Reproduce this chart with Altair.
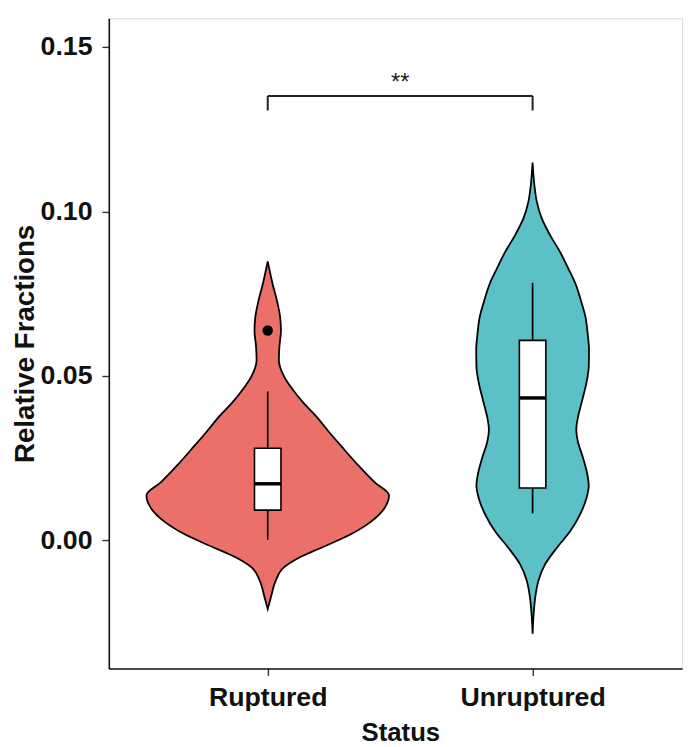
import altair as alt
import pandas as pd

# ---- data ----
statuses = ["Ruptured", "Unruptured"]
centers = [1, 2]
fill_colors = ["#EC706A", "#5BC1C6"]

# violin outline: value (y) and half-width (x units)
rupt_v = [0.0848, 0.0778, 0.0728, 0.0678, 0.0638, 0.0588, 0.0548, 0.0498, 0.0458,
          0.0418, 0.0377, 0.0328, 0.0277, 0.0227, 0.0177, 0.0137, 0.0097, 0.0057,
          0.0017, -0.0023, -0.0053, -0.0083, -0.0123, -0.0173, -0.0209]
rupt_hw = [0.0, 0.019, 0.035, 0.047, 0.050, 0.044, 0.042, 0.062, 0.095,
           0.135, 0.183, 0.233, 0.288, 0.343, 0.403, 0.458, 0.440, 0.390,
           0.310, 0.200, 0.118, 0.060, 0.030, 0.012, 0.0]

unrupt_v = [0.1149, 0.1079, 0.1029, 0.0978, 0.0928, 0.0878, 0.0828, 0.0778, 0.0728,
            0.0678, 0.0628, 0.0578, 0.0528, 0.0478, 0.0428, 0.0377, 0.0337, 0.0297,
            0.0257, 0.0207, 0.0167, 0.0127, 0.0077, 0.0027, -0.0023, -0.0073,
            -0.0123, -0.0173, -0.0224, -0.0284]
unrupt_hw = [0.0, 0.007, 0.016, 0.035, 0.066, 0.103, 0.134, 0.163, 0.183,
             0.200, 0.208, 0.213, 0.212, 0.203, 0.188, 0.172, 0.165, 0.172,
             0.188, 0.205, 0.212, 0.203, 0.178, 0.141, 0.091, 0.047,
             0.022, 0.010, 0.004, 0.0]

# boxplot statistics
box_q1 = [0.0092, 0.0159]
box_med = [0.0172, 0.0433]
box_q3 = [0.0280, 0.0608]
whisk_lo = [0.0002, 0.0082]
whisk_hi = [0.0453, 0.0783]
box_half = 0.05

outlier_status = ["Ruptured"]
outlier_v = [0.0638]

# significance bracket
bracket_from = 1
bracket_to = 2
bracket_y = 0.1351
bracket_tick_y = 0.1307
sig_label = "**"
sig_y = 0.1368

# ---- tables ----
rows = []
for st, c, vs, hws in [(statuses[0], centers[0], rupt_v, rupt_hw),
                       (statuses[1], centers[1], unrupt_v, unrupt_hw)]:
    for v, hw in zip(vs, hws):
        rows.append({"status": st, "v": v, "lo": c - hw, "hi": c + hw})
violin_df = pd.DataFrame(rows).sort_values(["status", "v"]).reset_index(drop=True)

box_df = pd.DataFrame({
    "status": statuses, "c": centers,
    "lo": [c - box_half for c in centers], "hi": [c + box_half for c in centers],
    "q1": box_q1, "med": box_med, "q3": box_q3, "wl": whisk_lo, "wh": whisk_hi,
})
out_df = pd.DataFrame({"status": outlier_status,
                       "c": [centers[statuses.index(s)] for s in outlier_status],
                       "v": outlier_v})
br_df = pd.DataFrame({
    "x": [bracket_from, bracket_from, bracket_to],
    "x2": [bracket_to, bracket_from, bracket_to],
    "y": [bracket_y, bracket_tick_y, bracket_tick_y],
    "y2": [bracket_y, bracket_y, bracket_y],
})
txt_df = pd.DataFrame({"x": [(bracket_from + bracket_to) / 2], "y": [sig_y], "t": [sig_label]})

# ---- scales / axes ----
FONT = "Liberation Sans"
xscale = alt.Scale(domain=[0.4, 2.5642], nice=False, zero=False)
yscale = alt.Scale(domain=[-0.03897, 0.15875], nice=False, zero=False)

xaxis = alt.Axis(values=[1, 2], labelExpr="datum.value < 1.5 ? 'Ruptured' : 'Unruptured'",
                 grid=False, tickSize=7, labelPadding=9, labelFontSize=27,
                 labelFont=FONT, labelFontWeight="bold", labelColor="#111111",
                 labelFlush=False, labelOverlap=False,
                 domainColor="#111111", domainWidth=1.6, tickColor="#333333", tickWidth=1.4,
                 titleFont=FONT, titleFontSize=26, titleFontWeight="bold", titleColor="#111111",
                 titleBaseline="alphabetic", titleX=295, titleY=73, titleAlign="center")
yaxis = alt.Axis(values=[0, 0.05, 0.10, 0.15], format=".2f", grid=False, tickSize=7,
                 labelPadding=10, labelFontSize=27, labelFont=FONT, labelFontWeight="bold",
                 labelColor="#111111", labelFlush=False, labelOverlap=False,
                 domainColor="#111111", domainWidth=1.6, tickColor="#333333", tickWidth=1.4,
                 titleFont=FONT, titleFontSize=28, titleFontWeight="bold", titleColor="#111111",
                 titleBaseline="alphabetic", titleX=-76, titleAngle=270, titleAlign="center")


def X(field):
    return alt.X(field, type="quantitative", scale=xscale, axis=xaxis, title="Status")


def Y(field):
    return alt.Y(field, type="quantitative", scale=yscale, axis=yaxis, title="Relative Fractions")


color = alt.Color("status:N", scale=alt.Scale(domain=statuses, range=fill_colors), legend=None)

violins = alt.Chart(violin_df).mark_area(
    orient="horizontal", interpolate="monotone", stroke="black", strokeWidth=1.8,
    fillOpacity=1
).encode(
    y=Y("v"), x=X("lo"), x2="hi", fill=color, detail="status:N"
)

whiskers = alt.Chart(box_df).mark_rule(color="black", strokeWidth=1.7).encode(
    x=X("c"), y=Y("wl"), y2="wh"
)
boxes = alt.Chart(box_df).mark_bar(fill="white", stroke="black", strokeWidth=1.6).encode(
    x=X("lo"), x2="hi", y=Y("q1"), y2="q3"
)
medians = alt.Chart(box_df).mark_rule(color="black", strokeWidth=3.5).encode(
    x=X("lo"), x2="hi", y=Y("med")
)
outliers = alt.Chart(out_df).mark_circle(color="black", size=110, opacity=1).encode(
    x=X("c"), y=Y("v")
)
bracket = alt.Chart(br_df).mark_rule(color="#222222", strokeWidth=2).encode(
    x=X("x"), x2="x2", y=Y("y"), y2="y2"
)
sig = alt.Chart(txt_df).mark_text(font=FONT, fontSize=24, color="#222222",
                                  baseline="alphabetic", align="center").encode(
    x=X("x"), y=Y("y"), text="t:N"
)

chart = alt.layer(violins, whiskers, boxes, medians, outliers, bracket, sig).properties(
    width=580, height=658,
    autosize=alt.AutoSizeParams(type="none"),
    padding={"left": 102, "top": 6, "right": 3, "bottom": 73},
).configure_view(stroke=None).configure(background="white")

chart.save("out.html", embed_options={"renderer": "svg", "actions": False})
